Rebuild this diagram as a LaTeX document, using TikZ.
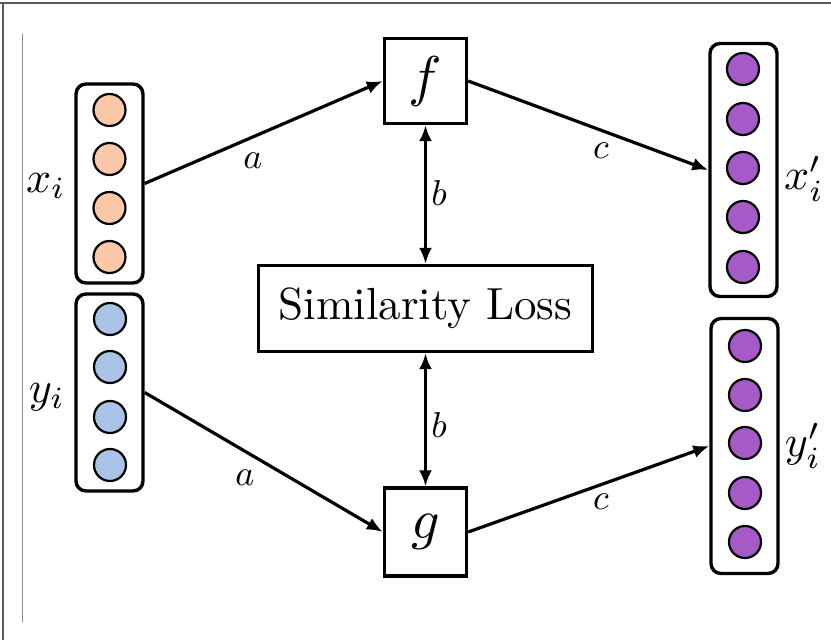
\documentclass[tikz,border=0pt]{standalone}
\usepackage{graphicx}
\usetikzlibrary{arrows.meta}
\definecolor{peach}{RGB}{250,200,168}
\definecolor{lblue}{RGB}{170,196,232}
\definecolor{purp}{RGB}{166,90,200}
\newcommand{\txtsc}[2]{\scalebox{#1}{#2}}
\tikzset{
  vecbox/.style={draw, line width=3.4pt, rounded corners=10pt, minimum width=67pt, inner sep=0pt},
  unit/.style={circle, draw, line width=2.2pt, minimum size=32pt, inner sep=0pt},
  fbox/.style={draw, line width=3.4pt, inner sep=0pt},
  lossbox/.style={draw, line width=3.4pt, inner sep=0pt},
  veclabel/.style={inner sep=0pt},
  edgelabel/.style={inner sep=0pt},
  conn/.style={line width=3.2pt, -{Latex[length=16pt,width=13pt]}},
  biconn/.style={line width=3.2pt, {Latex[length=16pt,width=13pt]}-{Latex[length=16pt,width=13pt]}},
}
\begin{document}
\begin{tikzpicture}[x=1pt,y=-1pt]
\useasboundingbox (0,0) rectangle (831,640);
% frame
\draw[black!65, line width=1.6pt] (0,3) -- (831,3);
\draw[black!65, line width=1.6pt] (3,3) -- (3,640);
\draw[black!45, line width=1pt] (22,34) -- (22,622);

% vector boxes
\node[vecbox, minimum height=199pt] (X) at (109.5,183.5) {};
\node[vecbox, minimum height=197pt] (Y) at (109.5,392.5) {};
\node[vecbox, minimum height=253pt] (XP) at (743.5,170) {};
\node[vecbox, minimum height=255pt] (YP) at (744.5,446) {};

% units
\node[unit, fill=peach] (x1) at (109.5,110) {};
\node[unit, fill=peach] (x2) at (109.5,159) {};
\node[unit, fill=peach] (x3) at (109.5,208) {};
\node[unit, fill=peach] (x4) at (109.5,257) {};

\node[unit, fill=lblue] (y1) at (110,319) {};
\node[unit, fill=lblue] (y2) at (110,367) {};
\node[unit, fill=lblue] (y3) at (110,417) {};
\node[unit, fill=lblue] (y4) at (110,465) {};

\node[unit, fill=purp] (xp1) at (743,69) {};
\node[unit, fill=purp] (xp2) at (743,119) {};
\node[unit, fill=purp] (xp3) at (743,168) {};
\node[unit, fill=purp] (xp4) at (743,217) {};
\node[unit, fill=purp] (xp5) at (743,267) {};

\node[unit, fill=purp] (yp1) at (745,346) {};
\node[unit, fill=purp] (yp2) at (745,395) {};
\node[unit, fill=purp] (yp3) at (745,443) {};
\node[unit, fill=purp] (yp4) at (745,493) {};
\node[unit, fill=purp] (yp5) at (745,542) {};

% vector labels
\node[veclabel] (xl) at (46,186) {\txtsc{4.4}{$x_i$}};
\node[veclabel] (yl) at (47,397) {\txtsc{4.4}{$y_i$}};
\node[veclabel] (xpl) at (804,179) {\txtsc{4.4}{$x'_i$}};
\node[veclabel] (ypl) at (803,446) {\txtsc{4.4}{$y'_i$}};

% function boxes
\node[fbox, minimum width=82pt, minimum height=85pt] (F) at (425.5,81) {\txtsc{5.6}{$f$}};
\node[fbox, minimum width=82pt, minimum height=88pt] (G) at (425.5,532) {\txtsc{5.6}{$g$}};
\node[lossbox, minimum width=334pt, minimum height=86pt] (S) at (425.5,308.5) {\txtsc{4.5}{Similarity Loss}};

% connectors
\draw[conn] (X.east) -- (F.west);
\draw[conn] (F.east) -- (XP.west);
\draw[conn] (Y.east) -- (G.west);
\draw[conn] (G.east) -- (YP.west);
\draw[biconn] (F.south) -- (S.north);
\draw[biconn] (S.south) -- (G.north);

% edge labels
\node[edgelabel] (la1) at (253,161) {\txtsc{3.6}{$a$}};
\node[edgelabel] (lc1) at (601,151) {\txtsc{3.6}{$c$}};
\node[edgelabel] (lb1) at (439,193) {\txtsc{3.6}{$b$}};
\node[edgelabel] (lb2) at (439,425) {\txtsc{3.6}{$b$}};
\node[edgelabel] (la2) at (245,478) {\txtsc{3.6}{$a$}};
\node[edgelabel] (lc2) at (601,502) {\txtsc{3.6}{$c$}};
\end{tikzpicture}
\end{document}
